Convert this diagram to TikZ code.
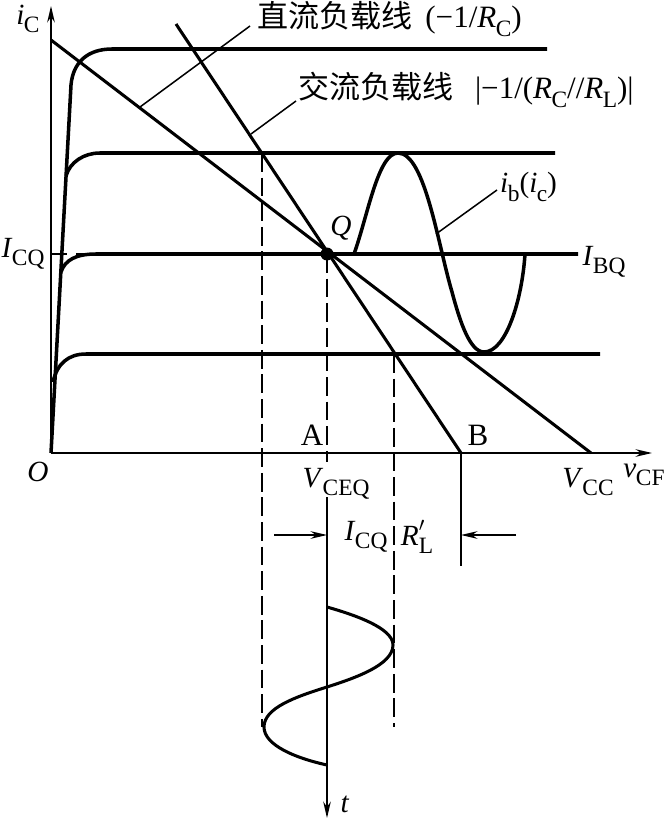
\documentclass[tikz,border=0pt]{standalone}
\usepackage{fontspec}
\usepackage{graphicx}
\setmainfont{Liberation Serif}
\newfontfamily\cjk{Noto Sans CJK SC}
\usetikzlibrary{arrows.meta}
\newcommand{\sub}[2]{\textit{#1}\kern-.02em\raisebox{-.28em}{\fontsize{20}{20}\selectfont #2}}
\tikzset{
  curve/.style = {line width = 3pt},
  loadline/.style = {line width = 2.6pt},
  thinline/.style = {line width = 1.3pt},
  guide/.style = {line width = 1.1pt, dash pattern = on 16pt off 5pt},
  tip/.style = {-{Stealth[length = 14pt, width = 6.5pt]}},
  lab/.style = {font = \fontsize{25}{25}\selectfont, inner sep = 0pt},
  biglab/.style = {font = \fontsize{26.5}{26.5}\selectfont, inner sep = 0pt}
}

\begin{document}
\begin{tikzpicture}[x = 0.03cm, y = -0.03cm]
\useasboundingbox (0, 0) rectangle (665, 819);
\coordinate (O) at (51, 453);
\coordinate (Q) at (327, 254);
\coordinate (B) at (461, 453);
\coordinate (C) at (591, 453);
% axes
\draw[thinline, tip] (O) -- (51, 6);
\draw[thinline, tip] (O) -- (652, 453);
% characteristics
\draw[curve] (O) -- (71, 85) .. controls (73, 62) and (88, 49) .. (112, 49) -- (547, 49);
\draw[curve] (66, 176) .. controls (70, 162) and (84, 153) .. (100, 153) -- (555, 153);
\draw[curve] (61, 272) .. controls (65, 260) and (76, 254) .. (96, 254) -- (578, 254);
\draw[curve] (53, 382) .. controls (57, 364) and (68, 354) .. (86, 354) -- (600, 354);
% load lines
\draw[loadline] (51, 40) -- (C);
\draw[loadline] (176, 24) -- (B);
\fill (Q) circle [radius = 6.5];
% signal
\draw[curve] (354, 254) .. controls (368, 215) and (378, 153) .. (398, 153)
  .. controls (425, 153) and (438, 245) .. (452, 292)
  .. controls (460, 322) and (470, 352) .. (484, 352)
  .. controls (506, 352) and (522, 300) .. (525, 254);
% guides
\draw[thinline] (51, 254) -- (67, 254);
\draw[thinline] (76, 254) -- (96, 254);
\draw[guide] (262, 153) -- (262, 727);
\draw[guide] (Q) -- (327, 462);
\draw[guide] (394, 354) -- (394, 727);
\draw[thinline] (B) -- (461, 566);
\draw[thinline, tip] (327, 497) -- (327, 818);
\draw[thinline, tip] (274, 535) -- (327, 535);
\draw[thinline, tip] (516, 535) -- (461, 535);
% lower sine
\draw[loadline] (327, 607) .. controls (355, 615) and (393, 628) .. (393, 645)
  .. controls (393, 665) and (355, 678) .. (327, 687)
  .. controls (295, 697) and (264, 708) .. (264, 727)
  .. controls (264, 745) and (295, 758) .. (327, 765);
% labels
\node[lab] (ic) at (28, 19) {\sub{i}{C}};
\node[lab] (icq) at (23, 254) {\sub{I}{CQ}};
\node[lab] (ibq) at (604, 262) {\sub{I}{BQ}};
\node[lab] (q) at (341, 228) {\textit{Q}};
\node[lab] (o) at (38, 472) {\textit{O}};
\node[biglab] (a) at (312, 435) {A};
\node[biglab] (b) at (478, 435) {B};
\node[lab] (vceq) at (336, 484) {\sub{V}{CEQ}};
\node[lab] (vcc) at (588, 482) {\sub{V}{CC}};
\node[lab] (vcf) at (644, 475) {\sub{v}{CF}};
\node[lab] (icqr) at (366, 537) {\sub{I}{CQ}};
\node[lab] (rl) at (417, 537) {\textit{R}\rlap{\raisebox{.1em}{$'$}}\raisebox{-.28em}{\fontsize{20}{20}\selectfont L}};
\node[lab] (t) at (345, 804) {\textit{t}};
\node[biglab, anchor = west] (dc) at (257, 19) {{\cjk 直流负载线}\, (−1/\sub{R}{C})};
\node[biglab, anchor = west] (ac) at (298, 90) {{\cjk 交流负载线}\;\, |−1/(\sub{R}{C}//\sub{R}{L})|};
\node[lab, anchor = west] (ib) at (500, 187) {\sub{i}{b}(\sub{i}{c})};
% leaders
\coordinate (dcfoot) at (140, 107);
\coordinate (acfoot) at (251, 134);
\coordinate (ibfoot) at (436, 234);
\draw[thinline] (250, 26) -- (dcfoot);
\draw[thinline] (296, 101) -- (acfoot);
\draw[thinline] (497, 190) -- (ibfoot);
\end{tikzpicture}
\end{document}
